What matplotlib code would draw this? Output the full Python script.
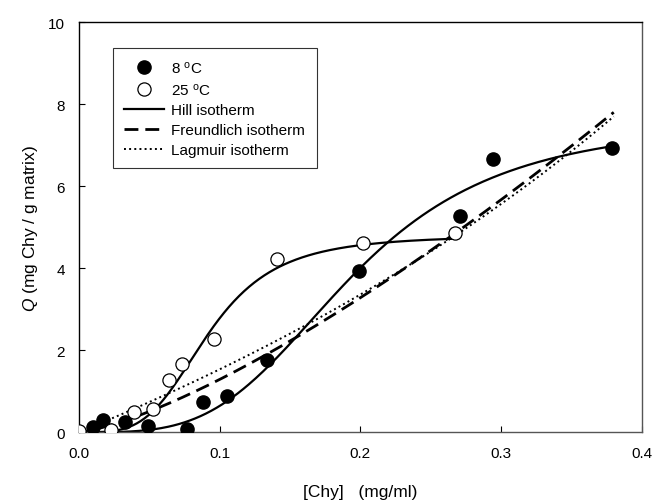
import numpy as np
import matplotlib
matplotlib.use('Agg')
import matplotlib.pyplot as plt
from matplotlib.lines import Line2D

plt.rcParams['font.family'] = ['Liberation Sans', 'DejaVu Sans']
plt.rcParams['mathtext.fontset'] = 'custom'
plt.rcParams['mathtext.rm'] = 'Liberation Sans'
plt.rcParams['mathtext.it'] = 'Liberation Sans:italic'

# measured points, 8 C (filled)
chy_8 = [0.010, 0.017, 0.033, 0.049, 0.077, 0.088, 0.105, 0.134, 0.199, 0.271, 0.294, 0.379]
q_8 = [0.12, 0.29, 0.25, 0.15, 0.07, 0.74, 0.88, 1.77, 3.93, 5.28, 6.67, 6.93]

# measured points, 25 C (open)
chy_25 = [0.0, 0.023, 0.039, 0.053, 0.064, 0.073, 0.096, 0.141, 0.202, 0.267]
q_25 = [0.02, 0.05, 0.49, 0.56, 1.28, 1.67, 2.27, 4.23, 4.62, 4.85]

# fitted isotherm parameters
hill_8 = dict(qmax=7.6, k=0.194, n=3.6, xmax=0.38)
hill_25 = dict(qmax=4.8, k=0.092, n=3.8, xmax=0.268)
freund = dict(kf=28.8, p=1.35, xmax=0.38)
lang = dict(a=14.1, b=0.8, xmax=0.38)


def hill(x, qmax, k, n):
    return qmax * x**n / (k**n + x**n)


fig = plt.figure(figsize=(6.57, 5.02), dpi=100)
ax = fig.add_axes([0.120, 0.137, 0.857, 0.817])

x1 = np.linspace(0, hill_8['xmax'], 300)
ax.plot(x1, hill(x1, hill_8['qmax'], hill_8['k'], hill_8['n']), 'k-', lw=1.6)
x2 = np.linspace(0, hill_25['xmax'], 300)
ax.plot(x2, hill(x2, hill_25['qmax'], hill_25['k'], hill_25['n']), 'k-', lw=1.6)
x3 = np.linspace(0, freund['xmax'], 300)
ax.plot(x3, freund['kf'] * x3**freund['p'], 'k--', lw=2.0, dashes=(5, 2.5))
ax.plot(x3, lang['a'] * x3 / (1 - lang['b'] * x3), 'k:', lw=1.4)

ax.plot(chy_8, q_8, 'o', color='k', ms=9.5, zorder=5)
ax.plot(chy_25, q_25, 'o', mfc='white', mec='k', mew=0.9, ms=9.5, zorder=5)

ax.set_xlim(0, 0.4)
ax.set_ylim(0, 10)
ax.set_xticks([0.0, 0.1, 0.2, 0.3, 0.4])
ax.set_xticklabels(['0.0', '0.1', '0.2', '0.3', '0.4'])
ax.set_yticks([0, 2, 4, 6, 8, 10])
ax.tick_params(direction='in', length=4, width=0.8, labelsize=11, pad=10,
               top=False, right=False, colors='k')
for s in ['bottom', 'right']:
    ax.spines[s].set_color('#555555')
for s in ax.spines.values():
    s.set_linewidth(1.0)

ax.set_xlabel('[Chy]   (mg/ml)', fontsize=12.5, labelpad=17)
ax.set_ylabel('$\\mathit{Q}$ (mg Chy / g matrix)', fontsize=12.5, labelpad=6)

handles = [
    Line2D([], [], ls='none', marker='o', color='k', ms=9.5),
    Line2D([], [], ls='none', marker='o', mfc='white', mec='k', mew=0.9, ms=9.5),
    Line2D([], [], color='k', ls='-', lw=1.6),
    Line2D([], [], color='k', ls='--', lw=2.0, dashes=(5, 2.5)),
    Line2D([], [], color='k', ls=':', lw=1.4),
]
labels = ['8 $^\\mathrm{o}$C', '25 $^\\mathrm{o}$C', 'Hill isotherm',
          'Freundlich isotherm', 'Lagmuir isotherm']
leg = ax.legend(handles, labels, loc='upper left', bbox_to_anchor=(0.06, 0.936),
                fontsize=11, frameon=True, fancybox=False, edgecolor='k',
                handlelength=2.6, borderpad=0.75, labelspacing=0.38,
                handletextpad=0.5, borderaxespad=0)
leg.get_frame().set_linewidth(0.8)

fig.savefig('out.png', dpi=100)
